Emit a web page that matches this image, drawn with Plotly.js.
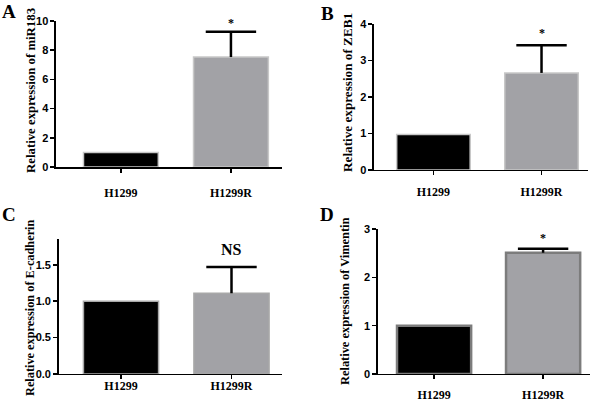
<!DOCTYPE html>
<html><head><meta charset="utf-8">
<script src="https://cdn.plot.ly/plotly-3.0.1.min.js"></script>
<style>html,body{margin:0;padding:0;background:#fff}#c{width:600px;height:403px}</style>
</head><body><div id="c"></div>
<script>
const categories = ['H1299', 'H1299R'];
const mir183 = [1.0, 7.53];
const mir183Err = [null, 1.74];
const zeb1 = [0.97, 2.66];
const zeb1Err = [null, 0.76];
const ecad = [1.0, 1.11];
const ecadErr = [null, 0.36];
const vim = [1.0, 2.51];
const vimErr = [null, 0.08];
const titles = ['Relative expression of miR183', 'Relative expression of ZEB1',
                'Relative expression of E-cadherin', 'Relative expression of Vimentin'];
const panelLetters = ['A', 'B', 'C', 'D'];
const marks = ['*', '*', 'NS', '*'];

const serif = 'Liberation Serif, Times New Roman, serif';
const sans = 'Liberation Sans, Arial, sans-serif';
const fills = ['#000000', '#a2a2a6'];

function bars(vals, ax, outline, olw) {
  return {
    type: 'bar', x: categories, y: vals, xaxis: 'x' + ax, yaxis: 'y' + ax,
    width: 0.68,
    marker: {color: fills, line: {color: outline, width: olw}},
    hoverinfo: 'none', showlegend: false
  };
}
// upper-only error bar: cap marker at the top, line down to the bar value
function errs(vals, e, ax) {
  return {
    type: 'scatter', mode: 'markers', x: categories,
    y: vals.map((v, i) => (e[i] == null ? null : v + e[i])),
    xaxis: 'x' + ax, yaxis: 'y' + ax,
    marker: {symbol: 'line-ew-open', size: 36, color: '#000', line: {color: '#000', width: 2.5}},
    error_y: {type: 'data', symmetric: false, array: e.map(x => (x == null ? null : 0)),
              arrayminus: e, color: '#000', thickness: 2.5, width: 0, visible: true},
    hoverinfo: 'none', showlegend: false, cliponaxis: false
  };
}

const data = [
  bars(mir183, '', '#c8c8c8', 1.5),
  bars(zeb1, '2', '#c8c8c8', 1.5),
  bars(ecad, '3', '#a8a8a8', 1.5),
  bars(vim, '4', '#7c7c7c', 2.5),
  errs(mir183, mir183Err, ''),
  errs(zeb1, zeb1Err, '2'),
  errs(ecad, ecadErr, '3'),
  errs(vim, vimErr, '4')
];
data[0].xaxis = 'x'; data[0].yaxis = 'y';
data[4].xaxis = 'x'; data[4].yaxis = 'y';

function yax(domain, range, dtick, fmt, anchor) {
  return {
    domain: domain, range: range, dtick: dtick, tick0: 0, tickformat: fmt, anchor: anchor,
    showgrid: false, zeroline: false, showline: true, linecolor: '#000', linewidth: 1.5,
    ticks: 'outside', ticklen: 4, tickwidth: 1.5, tickcolor: '#000',
    tickfont: {family: sans, size: 11, color: '#000', weight: 'bold'},
    fixedrange: true
  };
}
function xax(domain, range, anchor, standoff) {
  return {
    domain: domain, range: range, anchor: anchor, type: 'category',
    showgrid: false, zeroline: false, showline: true, linecolor: '#000', linewidth: 1.5,
    ticks: 'outside', ticklen: 4, tickwidth: 1.5, tickcolor: '#000',
    ticklabelstandoff: standoff,
    tickfont: {family: serif, size: 12, color: '#000', weight: 'bold'},
    fixedrange: true
  };
}

const layout = {
  width: 600, height: 403, margin: {l: 0, r: 0, t: 0, b: 0},
  paper_bgcolor: '#fff', plot_bgcolor: '#fff', bargap: 0,
  xaxis: xax([0.0933, 0.47], [-0.59, 1.464], 'y', 10),
  yaxis: yax([0.5856, 0.9479], [0, 10], 2, 'd', 'x'),
  xaxis2: xax([0.6233, 0.98], [-0.55, 1.43], 'y2', 6),
  yaxis2: yax([0.5782, 0.9404], [0, 4], 1, 'd', 'x2'),
  xaxis3: xax([0.0978, 0.47], [-0.564, 1.457], 'y3', -4),
  yaxis3: yax([0.072, 0.4062], [0, 1.85], 0.5, '.1f', 'x3'),
  xaxis4: xax([0.6295, 0.9833], [-0.517, 1.43], 'y4', 5),
  yaxis4: yax([0.072, 0.4318], [0, 3], 1, 'd', 'x4'),
  annotations: []
};

// panel letters
const letterPos = [[9, 12], [327, 14], [9, 214], [327, 214]];
letterPos.forEach((p, i) => layout.annotations.push({
  text: panelLetters[i], xref: 'paper', yref: 'paper', x: p[0] / 600, y: 1 - p[1] / 403,
  xanchor: 'center', yanchor: 'middle', showarrow: false,
  font: {family: serif, size: 19, color: '#000', weight: 'bold'}
}));
// y-axis titles
const titlePos = [[31, 91], [347, 93], [30, 308], [345, 302]];
const titleSize = [12.8, 13.2, 12.3, 12.4];
titlePos.forEach((p, i) => layout.annotations.push({
  text: titles[i], xref: 'paper', yref: 'paper', x: p[0] / 600, y: 1 - p[1] / 403,
  xanchor: 'center', yanchor: 'middle', textangle: -90, showarrow: false,
  font: {family: serif, size: titleSize[i], color: '#000', weight: 'bold'}
}));
// significance marks
const markY = [9.23, 3.5, 1.56, 2.62];
const axes = ['', '2', '3', '4'];
markY.forEach((v, i) => layout.annotations.push({
  text: marks[i], xref: 'x' + axes[i], yref: 'y' + axes[i], x: categories[1], y: v,
  xanchor: 'center', yanchor: 'bottom', showarrow: false,
  font: {family: serif, size: marks[i] === 'NS' ? 16 : 12, color: '#000', weight: 'bold'}
}));

Plotly.newPlot('c', data, layout, {staticPlot: true, displayModeBar: false});
</script></body></html>
